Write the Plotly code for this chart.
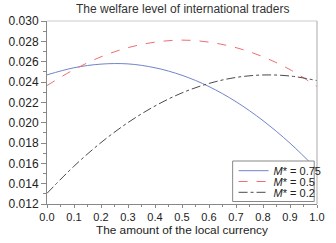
import plotly.graph_objects as go

x_vals = [0.0, 0.1, 0.2, 0.3, 0.4, 0.5, 0.6, 0.7, 0.8, 0.9, 1.0]
m075 = [0.02470, 0.02540, 0.02576, 0.02578, 0.02540, 0.02466, 0.02355, 0.02206, 0.02020, 0.01798, 0.01540]
m05 = [0.02365, 0.02522, 0.02648, 0.02738, 0.02792, 0.02812, 0.02792, 0.02738, 0.02648, 0.02522, 0.02355]
m02 = [0.01305, 0.01572, 0.01804, 0.02001, 0.02164, 0.02293, 0.02386, 0.02445, 0.02469, 0.02459, 0.02414]
names = ["<i>M</i>* = 0.75", "<i>M</i>* = 0.5", "<i>M</i>* = 0.2"]

FONT = "Liberation Sans, Arial, sans-serif"
L, R, T, B = 39, 9, 21, 39
W, H = 336, 243
PW, PH = W - L - R, H - T - B

def px_x(px):
    return (px - L) / PW

def px_y(py):
    return (H - B - py) / PH

fig = go.Figure()
fig.add_trace(go.Scatter(x=x_vals, y=m075, mode="lines", name=names[0], legend="legend",
                         line=dict(color="#7184c8", width=1, shape="spline")))
fig.add_trace(go.Scatter(x=x_vals, y=m05, mode="lines", name=names[1], legend="legend2",
                         line=dict(color="#ef6d70", width=1, dash="dash", shape="spline")))
fig.add_trace(go.Scatter(x=x_vals, y=m02, mode="lines", name=names[2], legend="legend3",
                         line=dict(color="#4a4a4a", width=1, dash="dashdot", shape="spline")))

leg_common = dict(xanchor="left", yanchor="middle", bgcolor="rgba(0,0,0,0)", borderwidth=0,
                  font=dict(size=11, color="#222", family=FONT))
fig.update_layout(
    width=W, height=H,
    margin=dict(l=L, r=R, t=T, b=B),
    paper_bgcolor="white", plot_bgcolor="white",
    font=dict(family=FONT, size=12, color="#222"),
    showlegend=True,
    legend=dict(x=px_x(238), y=px_y(170.7), **leg_common),
    legend2=dict(x=px_x(238), y=px_y(181.5), **leg_common),
    legend3=dict(x=px_x(238), y=px_y(192.3), **leg_common),
)
fig.update_xaxes(range=[0, 1], dtick=0.1, tickformat=".1f", ticks="outside", ticklen=3,
                 tickcolor="#888", showline=True, linecolor="#888", linewidth=1,
                 showgrid=False, zeroline=False, tickfont=dict(size=11, color="#222"),
                 minor=dict(dtick=0.05, ticks="outside", ticklen=2, tickcolor="#888"))
fig.update_yaxes(range=[0.012, 0.030], dtick=0.002, tickformat=".3f", ticks="outside", ticklen=5,
                 tickcolor="#888", showline=True, linecolor="#888", linewidth=1,
                 showgrid=False, zeroline=False, tickfont=dict(size=12, color="#222"),
                 minor=dict(dtick=0.001, ticks="outside", ticklen=3, tickcolor="#888"))
fig.add_shape(type="line", xref="paper", yref="paper", x0=0, x1=1, y0=1, y1=1,
              line=dict(color="#ccc", width=1))
fig.add_shape(type="line", xref="paper", yref="paper", x0=1, x1=1, y0=0, y1=1,
              line=dict(color="#aaa", width=1))
# legend frame
fig.add_shape(type="rect", xref="paper", yref="paper", layer="above",
              x0=px_x(237), x1=px_x(324), y0=px_y(201.5), y1=px_y(161),
              fillcolor="white", line=dict(color="#888", width=1))
fig.add_annotation(text="The welfare level of international traders", xref="paper", yref="paper",
                   x=0.5, y=px_y(8.5), xanchor="center", yanchor="middle", showarrow=False,
                   borderpad=0, font=dict(size=12, color="#333", family=FONT))
fig.add_annotation(text="The amount of the local currency", xref="paper", yref="paper",
                   x=0.5, y=px_y(230), xanchor="center", yanchor="middle", showarrow=False,
                   borderpad=0, font=dict(size=11.8, color="#222", family=FONT))

fig.write_html("out.html", config={"displayModeBar": False},
               post_script="document.body.style.margin='0';")
